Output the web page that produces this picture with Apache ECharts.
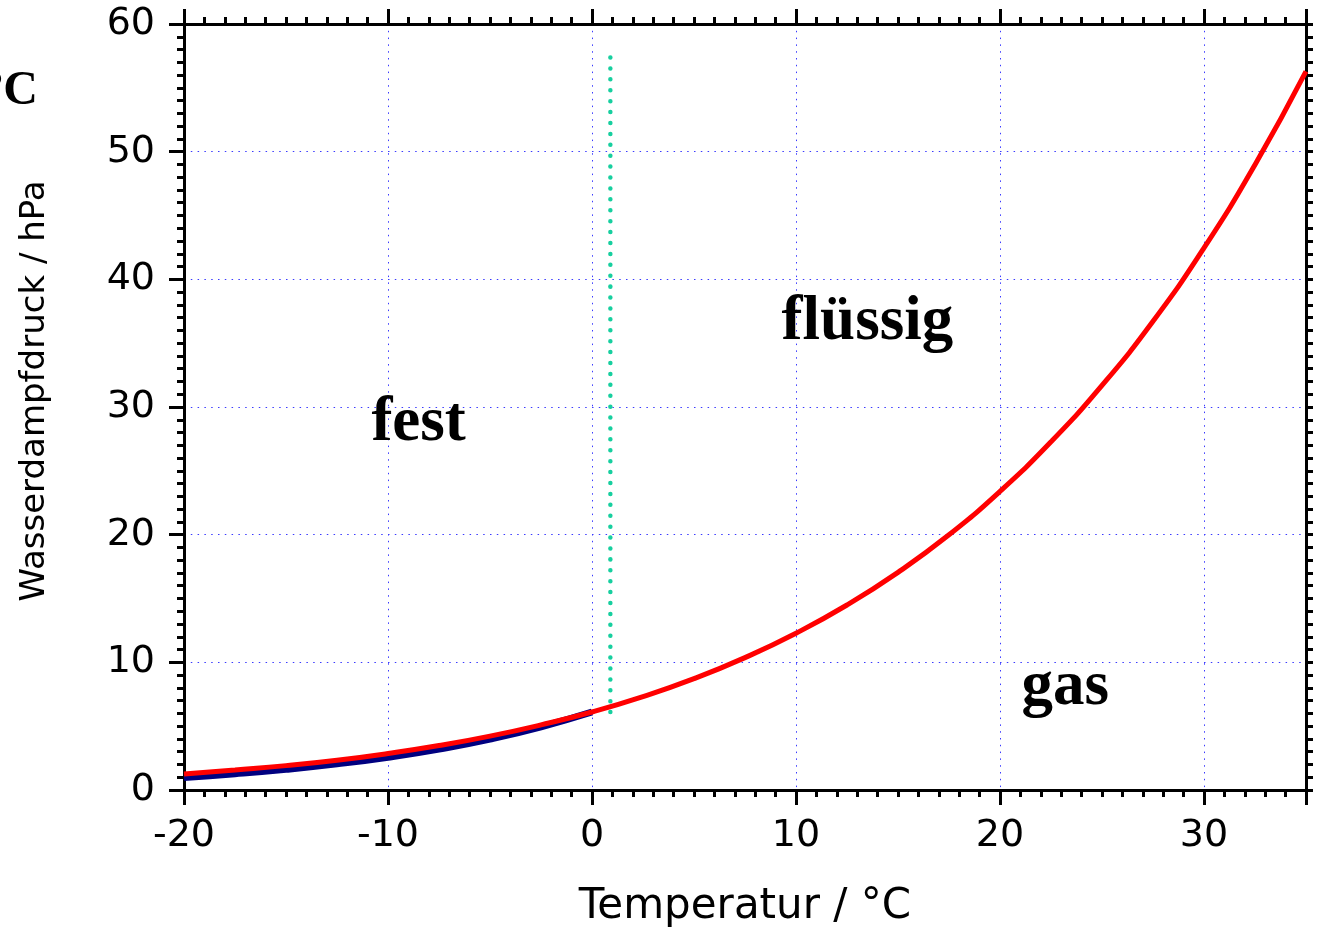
<!DOCTYPE html>
<html>
<head>
<meta charset="utf-8">
<script src="https://cdn.jsdelivr.net/npm/echarts@6/dist/echarts.min.js"></script>
<style>
  html, body { margin: 0; padding: 0; background: #fff; }
  #chart { width: 1330px; height: 930px; }
</style>
</head>
<body>
<div id="chart"></div>
<script>
// Saturation vapour pressure of water: over liquid water and over ice
const tempWater = [-20, -17.5, -15, -12.5, -10, -7.5, -5, -2.5, 0, 2.5, 5, 7.5, 10, 12.5, 15, 17.5, 20, 22.5, 25, 27.5, 30, 32.5, 35];
const pressWater = [1.25, 1.57, 1.91, 2.33, 2.86, 3.48, 4.22, 5.10, 6.11, 7.31, 8.72, 10.37, 12.28, 14.49, 17.05, 19.99, 23.39, 27.27, 31.69, 36.71, 42.46, 48.98, 56.29];

const tempIce = [-20, -17.5, -15, -12.5, -10, -7.5, -5, -2.5, 0];
const pressIce = [0.98, 1.27, 1.62, 2.05, 2.57, 3.21, 3.99, 4.95, 6.11];

// Melting line (solid / liquid boundary)
const meltTemp = [0.9, 0.9];
const meltPress = [6.1, 57.6];

// Phase region labels
const phaseNames = ['fest', 'flüssig', 'gas'];
const phaseTemp = [-8.5, 13.5, 23.2];
const phasePress = [28.7, 36.6, 8.0];

const xTicks = { min: -20, max: 35, interval: 10 };
const yTicks = { min: 0, max: 60, interval: 10 };

const zip = (a, b) => a.map((v, i) => [v, b[i]]);

const chart = echarts.init(document.getElementById('chart'), null, { renderer: 'canvas' });

const sans = '"DejaVu Sans", Arial, sans-serif';
const tickFont = { fontFamily: sans, fontSize: 38, color: '#000' };
const axisLine = { show: true, onZero: false, lineStyle: { color: '#000', width: 3 } };
const majorTick = { show: true, length: 15, lineStyle: { color: '#000', width: 3 } };
const minorTick = { show: true, splitNumber: 10, length: 7, lineStyle: { color: '#000', width: 3 } };
const gridDots = { show: true, lineStyle: { color: '#3a3aff', width: 1, type: [1.5, 5.3] } };

chart.setOption({
  animation: false,
  backgroundColor: '#fff',
  grid: { left: 184, right: 24, top: 24, bottom: 140, containLabel: false, outerBoundsMode: 'none' },
  xAxis: [
    {
      type: 'value', position: 'bottom', ...xTicks,
      name: 'Temperatur / °C', nameLocation: 'middle', nameGap: 96,
      nameTextStyle: { fontFamily: sans, fontSize: 42, color: '#000' },
      axisLine, axisTick: majorTick, minorTick,
      axisLabel: { ...tickFont, margin: 27, formatter: v => (v === 35 ? '' : String(v)) },
      splitLine: gridDots
    },
    {
      type: 'value', position: 'top', ...xTicks,
      axisLine, axisTick: majorTick, minorTick,
      axisLabel: { show: false }, splitLine: { show: false }
    }
  ],
  yAxis: [
    {
      type: 'value', position: 'left', ...yTicks,
      name: 'Wasserdampfdruck / hPa', nameLocation: 'middle', nameGap: 132,
      nameTextStyle: { fontFamily: sans, fontSize: 34, color: '#000', padding: [0, 0, 0, 32] },
      axisLine, axisTick: majorTick, minorTick,
      axisLabel: { ...tickFont, margin: 29 },
      splitLine: gridDots
    },
    {
      type: 'value', position: 'right', ...yTicks,
      axisLine, axisTick: { ...majorTick, length: 7 }, minorTick,
      axisLabel: { show: false }, splitLine: { show: false }
    }
  ],
  series: [
    {
      type: 'line', name: 'Eis', data: zip(tempIce, pressIce),
      smooth: true, showSymbol: false, z: 3,
      lineStyle: { color: '#000080', width: 7 }
    },
    {
      type: 'line', name: 'Wasser', data: zip(tempWater, pressWater),
      smooth: true, showSymbol: false, z: 4,
      lineStyle: { color: '#ff0000', width: 5 }
    },
    {
      type: 'line', name: 'Schmelzlinie', data: zip(meltTemp, meltPress),
      showSymbol: false, z: 2,
      lineStyle: { color: '#17cf9f', width: 4.5, type: [0.01, 10.9], cap: 'round' }
    },
    {
      type: 'scatter', symbolSize: 0, z: 5,
      itemStyle: { opacity: 1, color: '#000' },
      data: phaseNames.map((n, i) => ({ name: n, value: [phaseTemp[i], phasePress[i]] })),
      label: {
        show: true, position: [0, 0], align: 'center', verticalAlign: 'middle',
        formatter: p => p.name,
        fontFamily: '"Liberation Serif", "Times New Roman", serif', fontWeight: 'bold',
        fontSize: 63, color: '#000'
      }
    }
  ],
  graphic: [
    {
      type: 'text', right: 1292, top: 68,
      style: { text: '°C', font: 'bold 48px "Liberation Serif", serif', fill: '#000' }
    }
  ]
});
</script>
</body>
</html>
